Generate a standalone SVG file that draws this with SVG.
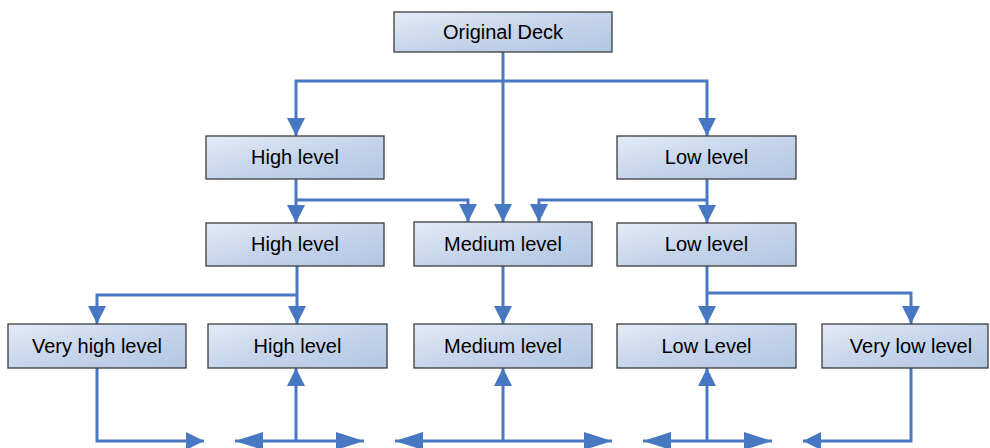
<svg xmlns="http://www.w3.org/2000/svg" width="990" height="448" viewBox="0 0 990 448">
  <defs>
    <linearGradient id="boxFill" x1="0" y1="0" x2="1" y2="1">
      <stop offset="0" stop-color="#e4ebf6"/>
      <stop offset="0.55" stop-color="#c3d3ea"/>
      <stop offset="1" stop-color="#b2c6e2"/>
    </linearGradient>
    <marker id="head" viewBox="0 0 18 18" refX="18" refY="9" markerWidth="18" markerHeight="18" markerUnits="userSpaceOnUse" orient="auto">
      <path d="M0,0 L18,9 L0,18 Z" fill="#4878c2"/>
    </marker>
    <marker id="headLong" viewBox="0 0 28 18" refX="28" refY="9" markerWidth="28" markerHeight="18" markerUnits="userSpaceOnUse" orient="auto">
      <path d="M0,0 L28,9 L0,18 Z" fill="#4878c2"/>
    </marker>
  </defs>
  <style>
    .box rect { fill: url(#boxFill); stroke: #3c3c3c; stroke-width: 1.3; }
    .box text { font-family: "Liberation Sans", Arial, sans-serif; font-size: 20px; fill: #000; text-anchor: middle; }
    .conn path { fill: none; stroke: #4878c2; stroke-width: 3; }
    .arrow { marker-end: url(#head); }
    .arrowLong { marker-end: url(#headLong); }
  </style>

  <!-- connectors -->
  <g id="connectors" class="conn">
    <!-- from Original Deck -->
    <path class="arrow" d="M503,52 V222"/>
    <path class="arrow" d="M503,81 H296 V136"/>
    <path class="arrow" d="M503,81 H707 V136"/>
    <!-- row 2 to row 3 -->
    <path class="arrow" d="M296,179 V223"/>
    <path class="arrow" d="M296,200 H468 V222"/>
    <path class="arrow" d="M707,179 V223"/>
    <path class="arrow" d="M707,200 H539 V222"/>
    <!-- row 3 to row 4 -->
    <path class="arrow" d="M297,266 V324"/>
    <path class="arrow" d="M297,295 H97 V324"/>
    <path class="arrow" d="M503,266 V324"/>
    <path class="arrow" d="M707,266 V324"/>
    <path class="arrow" d="M707,293 H911 V324"/>
    <!-- bottom connectors -->
    <path class="arrow" d="M97,368 V441 H204"/>
    <path class="arrow" d="M296,441 V368"/>
    <path class="arrowLong" d="M296,441 H235"/>
    <path class="arrowLong" d="M296,441 H364"/>
    <path class="arrow" d="M503,441 V368"/>
    <path class="arrowLong" d="M503,441 H395"/>
    <path class="arrowLong" d="M503,441 H612"/>
    <path class="arrow" d="M707,441 V368"/>
    <path class="arrowLong" d="M707,441 H643"/>
    <path class="arrowLong" d="M707,441 H772"/>
    <path class="arrow" d="M911,368 V441 H803"/>
  </g>

  <!-- nodes -->
  <g id="original-deck" class="box">
    <rect x="394" y="12" width="218" height="40"/>
    <text x="503" y="38.5">Original Deck</text>
  </g>
  <g id="high-level-1" class="box">
    <rect x="206" y="136" width="178" height="43"/>
    <text x="295" y="164">High level</text>
  </g>
  <g id="low-level-1" class="box">
    <rect x="617" y="136" width="179" height="43"/>
    <text x="706.5" y="164">Low level</text>
  </g>
  <g id="high-level-2" class="box">
    <rect x="206" y="223" width="178" height="43"/>
    <text x="295" y="251">High level</text>
  </g>
  <g id="medium-level-2" class="box">
    <rect x="414" y="222" width="178" height="44"/>
    <text x="503" y="250.5">Medium level</text>
  </g>
  <g id="low-level-2" class="box">
    <rect x="617" y="223" width="179" height="43"/>
    <text x="706.5" y="251">Low level</text>
  </g>
  <g id="very-high-level" class="box">
    <rect x="8" y="324" width="178" height="44"/>
    <text x="97" y="352.5">Very high level</text>
  </g>
  <g id="high-level-3" class="box">
    <rect x="208" y="324" width="179" height="44"/>
    <text x="297.5" y="352.5">High level</text>
  </g>
  <g id="medium-level-3" class="box">
    <rect x="414" y="324" width="178" height="44"/>
    <text x="503" y="352.5">Medium level</text>
  </g>
  <g id="low-level-3" class="box">
    <rect x="617" y="324" width="179" height="44"/>
    <text x="706.5" y="352.5">Low Level</text>
  </g>
  <g id="very-low-level" class="box">
    <rect x="822" y="324" width="166" height="44"/>
    <text x="911" y="352.5">Very low level</text>
  </g>
</svg>
